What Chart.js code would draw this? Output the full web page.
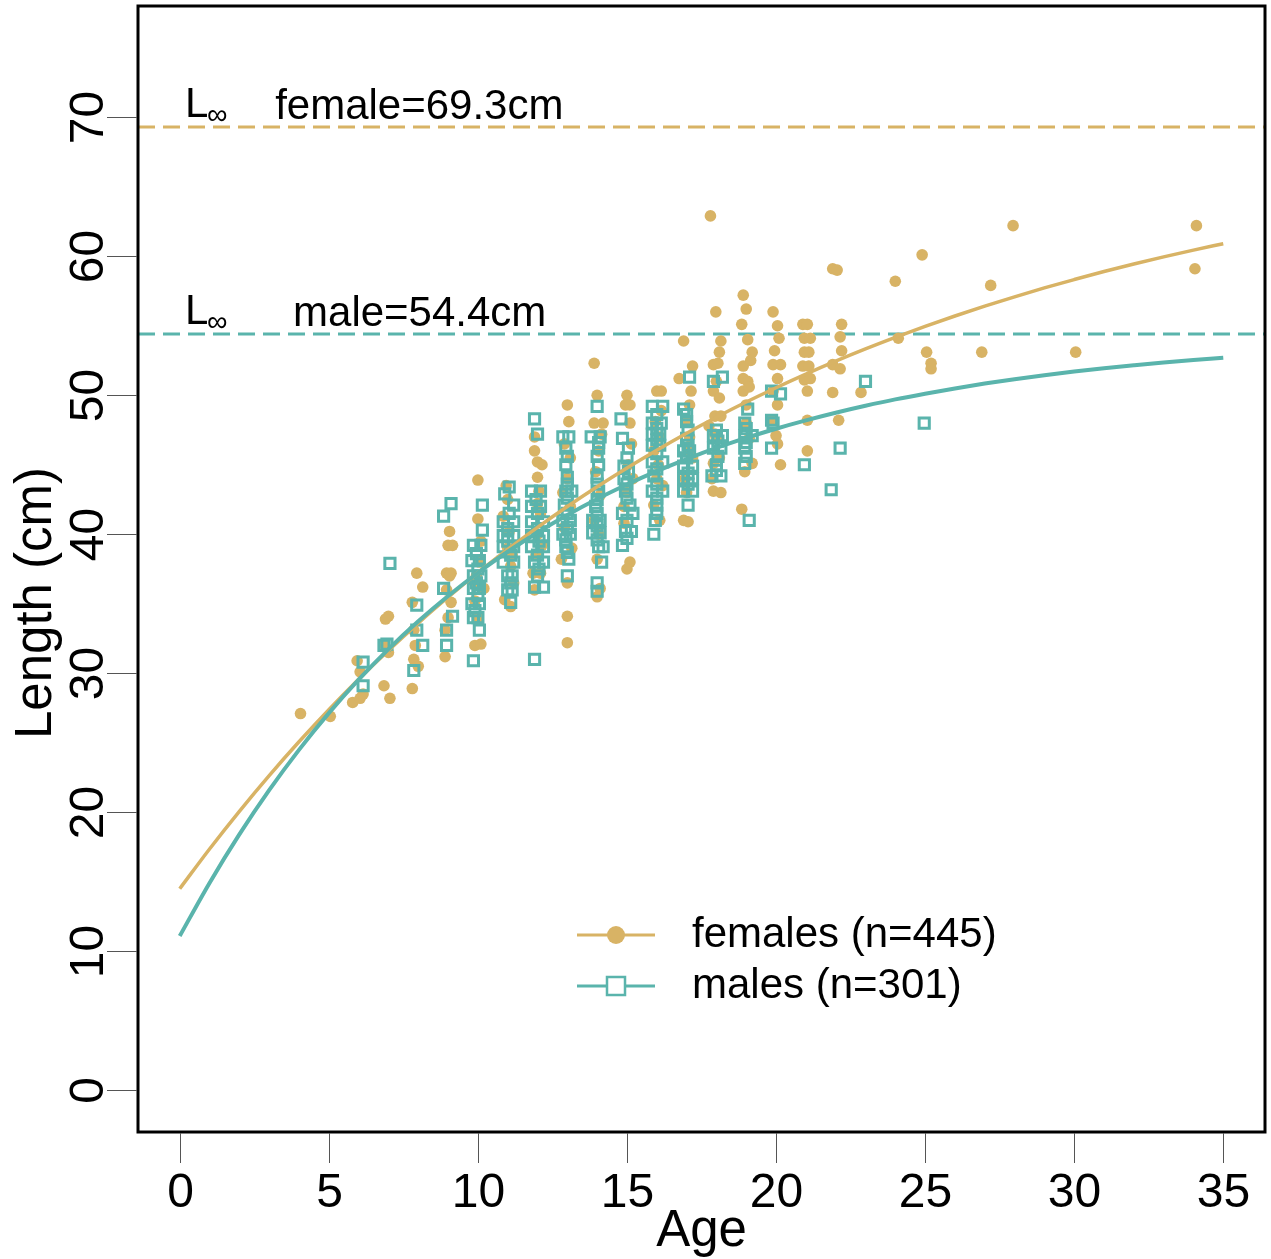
<!DOCTYPE html>
<html>
<head>
<meta charset="utf-8">
<script src="https://cdn.jsdelivr.net/npm/chart.js@4.4.1/dist/chart.umd.min.js"></script>
<style>
  html, body { margin: 0; padding: 0; background: #fff; }
  #wrap { width: 1271px; height: 1259px; }
</style>
</head>
<body>
<div id="wrap"><canvas id="growthChart"></canvas></div>
<script>
const ageTicks = [0, 5, 10, 15, 20, 25, 30, 35];
const lengthTicks = [0, 10, 20, 30, 40, 50, 60, 70];

const femaleLinf = 69.3;
const maleLinf = 54.4;

// fitted growth curves, one value per year of age
const curveAges = [0, 1, 2, 3, 4, 5, 6, 7, 8, 9, 10, 11, 12, 13, 14, 15, 16, 17,
  18, 19, 20, 21, 22, 23, 24, 25, 26, 27, 28, 29, 30, 31, 32, 33, 34, 35];
const femaleCurve = [14.50, 17.36, 20.07, 22.64, 25.07, 27.38, 29.57, 31.64, 33.61,
  35.47, 37.24, 38.91, 40.50, 42.00, 43.42, 44.77, 46.05, 47.27, 48.42, 49.51,
  50.54, 51.52, 52.45, 53.33, 54.16, 54.95, 55.70, 56.41, 57.08, 57.72, 58.32,
  58.90, 59.44, 59.95, 60.44, 60.90];
const maleCurve = [11.10, 14.92, 18.41, 21.59, 24.49, 27.13, 29.54, 31.74, 33.74,
  35.56, 37.23, 38.74, 40.13, 41.39, 42.54, 43.58, 44.54, 45.41, 46.21, 46.93,
  47.59, 48.19, 48.74, 49.24, 49.70, 50.11, 50.49, 50.84, 51.15, 51.44, 51.70,
  51.94, 52.15, 52.35, 52.53, 52.70];

// observed [age, length] pairs (ages jittered a little)
const femaleObs = [
  [4.05, 27.1], [5.05, 26.9],
  [5.8, 27.9], [6.05, 28.2], [5.95, 30.9], [6.05, 30.1], [6.15, 28.5],
  [6.85, 29.1], [7.05, 28.2], [7.0, 34.1], [6.9, 33.9], [6.85, 32.1], [7.0, 31.5],
  [7.95, 37.2], [8.15, 36.2], [7.8, 35.1], [7.8, 28.9], [7.85, 31.0], [7.9, 32.0], [7.85, 33.1], [8.0, 30.5],
  [9.05, 40.2], [9.0, 39.2], [9.15, 39.2], [8.95, 37.2], [9.1, 37.2], [9.05, 37.0], [9.1, 35.1], [8.9, 33.1],
  [8.9, 31.2], [9.0, 34.0], [8.95, 36.0],
  [10.0, 43.9], [10.0, 41.1], [9.9, 32.0], [10.1, 32.1], [10.2, 36.1], [9.9, 35.2], [10.05, 38.0], [9.95, 37.0],
  [10.1, 39.5], [10.0, 34.0], [9.9, 36.5],
  [10.85, 41.3], [10.9, 35.3], [11.1, 37.7], [11.0, 39.0], [11.2, 36.5], [11.05, 40.2], [11.0, 42.5], [11.15, 38.5],
  [10.95, 43.5], [11.1, 34.8],
  [11.9, 46.0], [12.0, 45.2], [12.15, 45.0], [12.0, 44.1], [12.05, 43.1], [11.85, 37.2], [12.1, 37.2], [11.9, 36.0],
  [12.0, 40.0], [12.1, 41.5], [11.95, 38.5], [12.15, 39.2], [12.0, 42.2], [11.9, 47.0],
  [13.0, 49.3], [13.05, 48.1], [12.8, 38.2], [13.0, 34.1], [13.0, 32.2], [12.9, 40.5], [13.1, 42.0], [13.0, 44.0],
  [13.1, 45.5], [12.9, 46.5], [13.15, 39.0], [13.0, 36.5], [12.85, 43.0],
  [13.9, 52.3], [14.0, 50.0], [13.9, 48.0], [14.2, 48.0], [14.0, 38.2], [14.1, 36.1], [14.0, 35.5], [14.05, 46.0],
  [13.95, 44.5], [14.1, 42.8], [13.9, 41.0], [14.05, 40.0], [14.15, 47.2],
  [14.95, 49.3], [15.1, 49.3], [15.1, 38.0], [15.0, 37.5], [14.9, 40.8], [15.05, 45.0], [15.15, 46.5], [15.0, 43.0],
  [14.9, 42.0], [15.1, 48.0], [15.2, 44.0], [15.0, 50.0],
  [16.0, 50.3], [16.15, 50.3], [15.9, 42.1], [15.95, 48.1], [16.1, 47.0], [16.05, 45.0], [16.2, 43.5], [15.9, 46.0],
  [16.1, 41.0], [16.0, 44.0], [16.15, 48.9],
  [16.75, 51.2], [16.9, 53.9], [17.2, 52.1], [17.15, 50.3], [17.1, 49.3], [17.0, 48.2], [16.9, 41.0], [17.05, 40.9],
  [17.1, 47.0], [17.2, 45.5], [16.95, 44.0], [17.1, 46.0], [17.0, 43.0],
  [17.8, 62.9], [17.98, 56.0], [18.15, 53.9], [18.1, 53.1], [17.9, 52.2], [18.05, 52.3], [17.9, 50.3], [18.1, 49.8],
  [17.95, 48.5], [18.15, 48.5], [17.75, 47.8], [18.0, 46.9], [17.9, 45.1], [17.9, 43.1], [18.15, 43.0], [17.85, 44.0],
  [18.1, 45.5], [18.0, 51.0], [17.95, 47.2],
  [18.9, 57.2], [19.0, 56.2], [18.85, 55.1], [19.2, 53.1], [18.9, 52.1], [18.9, 51.2], [19.05, 51.0], [18.9, 50.3],
  [19.0, 49.3], [19.1, 46.9], [19.2, 45.1], [18.85, 41.8], [19.0, 48.0], [19.1, 50.6], [19.15, 52.5], [19.05, 54.0],
  [18.95, 44.5],
  [19.9, 56.0], [20.05, 55.0], [20.1, 54.1], [19.9, 52.2], [20.15, 52.2], [20.05, 51.2], [19.9, 50.3], [20.05, 49.3],
  [20.0, 47.1], [20.15, 45.0], [20.05, 46.5], [19.95, 53.2], [19.85, 48.2],
  [20.9, 55.1], [21.05, 55.1], [20.95, 54.1], [21.15, 54.1], [20.95, 53.1], [21.1, 53.1], [20.9, 52.1], [21.1, 52.1],
  [20.95, 51.1], [21.15, 51.2], [21.05, 50.3], [21.05, 48.2], [21.05, 46.0],
  [21.9, 59.1], [22.05, 59.0], [22.2, 55.1], [22.15, 54.2], [22.2, 53.2], [21.9, 52.2], [22.15, 51.9], [21.9, 50.2],
  [22.1, 48.2],
  [22.85, 50.2],
  [24.0, 58.2], [24.1, 54.1],
  [24.9, 60.1], [25.05, 53.1], [25.2, 52.3], [25.2, 51.9],
  [26.9, 53.1], [27.2, 57.9],
  [27.95, 62.2],
  [30.05, 53.1],
  [34.1, 62.2], [34.05, 59.1]
];

const maleObs = [
  [6.15, 30.8], [6.15, 29.1],
  [7.05, 37.9], [6.95, 32.1], [6.85, 32.0],
  [7.95, 34.9], [7.95, 33.1], [8.15, 32.0], [7.85, 30.2],
  [8.85, 36.1], [9.15, 34.1], [8.95, 33.1], [8.95, 32.0], [9.1, 42.2], [8.85, 41.3],
  [10.15, 42.1], [10.15, 40.3], [9.85, 39.2], [10.1, 39.2], [9.8, 38.1], [10.05, 38.1], [9.85, 37.0], [9.85, 36.1],
  [10.05, 36.1], [9.8, 35.0], [10.05, 35.0], [9.85, 34.0], [10.0, 34.0], [10.05, 33.1], [9.85, 30.9], [9.95, 36.5],
  [10.0, 37.5], [9.95, 38.6], [10.0, 35.6], [9.9, 34.5], [10.1, 37.0],
  [11.05, 43.4], [10.9, 42.9], [11.2, 42.1], [10.85, 40.9], [11.2, 40.9], [10.85, 39.9], [11.2, 39.9], [10.85, 39.1],
  [11.2, 39.1], [10.85, 38.0], [11.2, 38.0], [11.0, 37.0], [11.15, 37.0], [11.0, 36.0], [11.15, 36.0], [11.1, 35.1],
  [11.0, 40.4], [11.1, 38.5], [11.0, 39.5], [11.05, 41.5], [11.1, 36.5],
  [11.9, 48.3], [12.0, 47.2], [11.8, 43.1], [12.1, 43.1], [11.8, 42.0], [12.1, 42.0], [11.8, 40.9], [12.2, 40.9],
  [11.8, 39.9], [12.2, 39.9], [11.8, 39.1], [12.2, 39.1], [11.9, 38.0], [12.2, 38.0], [11.9, 36.2], [12.2, 36.2],
  [11.9, 31.0], [12.0, 37.0], [12.0, 41.5], [12.0, 40.4], [12.05, 39.5], [12.0, 38.5], [11.95, 42.5], [12.05, 37.5],
  [12.85, 47.0], [13.05, 47.0], [12.95, 46.2], [12.95, 45.0], [13.0, 44.1], [12.95, 43.1], [13.15, 43.1], [12.9, 42.1],
  [12.85, 41.0], [13.1, 41.0], [12.85, 40.0], [13.1, 40.0], [12.95, 39.1], [13.05, 38.2], [13.0, 37.0],
  [13.0, 45.6], [13.0, 43.6], [13.0, 42.6], [13.0, 41.5], [13.0, 40.5], [12.95, 39.6], [13.0, 38.7],
  [14.0, 49.2], [13.8, 47.0], [14.1, 47.0], [14.05, 46.2], [14.05, 45.0], [14.0, 44.1], [14.05, 43.1], [13.95, 42.0],
  [13.85, 41.0], [14.1, 41.0], [13.85, 40.1], [14.1, 40.1], [14.05, 39.1], [14.2, 39.1], [14.15, 38.0], [14.0, 35.9],
  [14.0, 45.6], [14.0, 43.6], [14.0, 42.5], [14.0, 41.5], [14.0, 40.6], [14.0, 39.6], [14.05, 46.6], [14.0, 36.5],
  [14.8, 48.3], [14.85, 46.9], [15.05, 46.2], [14.9, 44.9], [14.9, 44.0], [14.95, 43.1], [15.1, 42.1], [14.85, 41.5],
  [15.2, 41.5], [14.95, 40.2], [15.15, 40.2], [14.85, 39.2], [15.0, 45.5],
  [15.0, 43.6], [15.0, 42.6], [15.0, 41.0], [15.05, 44.5], [15.0, 39.7],
  [15.85, 49.2], [16.2, 49.2], [15.85, 48.0], [16.15, 48.0], [15.85, 47.2], [16.1, 47.2], [15.85, 46.4], [16.1, 46.4],
  [15.85, 45.2], [16.2, 45.2], [15.9, 44.2], [15.85, 43.1], [16.2, 43.1], [16.0, 42.1], [15.95, 41.0], [15.9, 40.0],
  [16.0, 48.6], [16.0, 47.6], [16.0, 46.8], [16.0, 45.8], [16.0, 44.7], [16.0, 43.6], [16.0, 42.6], [16.0, 41.5],
  [17.1, 51.3], [16.9, 49.0], [17.0, 48.1], [17.0, 46.9], [16.9, 46.0], [17.1, 46.0], [16.9, 44.9], [17.2, 44.9],
  [16.9, 44.0], [17.2, 44.0], [16.9, 43.1], [17.2, 43.1], [17.05, 42.1], [17.0, 45.5],
  [17.05, 47.5], [17.05, 46.4], [17.05, 44.4], [17.05, 43.6], [17.0, 48.6],
  [17.9, 51.0], [18.2, 51.3], [17.9, 47.1], [18.2, 47.1], [17.9, 46.2], [18.15, 46.2], [17.85, 44.2], [18.15, 44.2],
  [18.0, 45.0], [18.05, 46.7], [18.05, 45.6], [18.0, 44.6], [18.0, 47.5],
  [18.95, 48.0], [18.95, 47.1], [19.2, 47.1], [18.95, 46.2], [18.95, 45.1], [19.1, 41.0], [19.05, 49.0],
  [19.0, 47.6], [19.0, 46.6], [19.0, 45.6],
  [19.85, 50.3], [20.15, 50.1], [19.85, 48.2], [19.85, 46.2], [19.9, 48.0],
  [20.95, 45.0],
  [21.85, 43.2], [22.15, 46.2],
  [23.0, 51.0],
  [24.97, 48.0]
];

const legendLabels = ["females (n=445)", "males (n=301)"];

const FEMALE = "#d8b365";
const MALE = "#5ab4ac";
const FONT = "'Liberation Sans', Arial, sans-serif";

const xMin = -1.4, xMax = 36.4;
const yMin = -3, yMax = 78;

const toXY = (pairs) => pairs.map((p) => ({ x: p[0], y: p[1] }));
const curveXY = (vals) => curveAges.map((a, i) => ({ x: a, y: vals[i] }));

// axes, box, L-infinity notes and legend, R-plot style
const framePlugin = {
  id: "frame",
  afterDraw(chart) {
    const { ctx, chartArea: a, scales } = chart;
    const xs = scales.x, ys = scales.y;
    ctx.save();

    ctx.strokeStyle = "#000";
    ctx.lineWidth = 3;
    ctx.strokeRect(a.left, a.top, a.right - a.left, a.bottom - a.top);

    ctx.strokeStyle = "#555";
    ctx.lineWidth = 1;
    ctx.fillStyle = "#000";
    ctx.font = "48px " + FONT;
    ctx.textAlign = "center";
    ctx.textBaseline = "alphabetic";
    ageTicks.forEach((v) => {
      const px = Math.round(xs.getPixelForValue(v)) + 0.5;
      ctx.beginPath();
      ctx.moveTo(px, a.bottom + 1);
      ctx.lineTo(px, a.bottom + 31);
      ctx.stroke();
      ctx.fillText(String(v), px, a.bottom + 75);
    });
    lengthTicks.forEach((v) => {
      const py = Math.round(ys.getPixelForValue(v)) + 0.5;
      ctx.beginPath();
      ctx.moveTo(a.left - 1, py);
      ctx.lineTo(a.left - 31, py);
      ctx.stroke();
      ctx.save();
      ctx.translate(a.left - 35, py);
      ctx.rotate(-Math.PI / 2);
      ctx.fillText(String(v), 0, 0);
      ctx.restore();
    });

    // axis titles
    ctx.font = "51px " + FONT;
    ctx.fillText("Age", (a.left + a.right) / 2, a.bottom + 114);
    ctx.save();
    ctx.translate(51, 603);
    ctx.rotate(-Math.PI / 2);
    ctx.fillText("Length (cm)", 0, 0);
    ctx.restore();

    // asymptote notes
    ctx.textAlign = "left";
    const notes = [
      { v: femaleLinf, text: "female=" + femaleLinf + "cm", at: 3.2 },
      { v: maleLinf, text: "male=" + maleLinf + "cm", at: 3.8 }
    ];
    notes.forEach((n) => {
      const py = ys.getPixelForValue(n.v);
      const lx = xs.getPixelForValue(0.18);
      ctx.font = "42px " + FONT;
      ctx.fillText("L", lx, py - 10);
      ctx.font = "29px " + FONT;
      ctx.fillText("\u221e", lx + 22, py - 3);
      ctx.font = "42px " + FONT;
      ctx.fillText(n.text, xs.getPixelForValue(n.at), py - 8);
    });

    // legend
    const rows = [
      { label: legendLabels[0], color: FEMALE, y: 935, square: false },
      { label: legendLabels[1], color: MALE, y: 986, square: true }
    ];
    ctx.textBaseline = "middle";
    ctx.font = "42px " + FONT;
    rows.forEach((r) => {
      ctx.strokeStyle = r.color;
      ctx.lineWidth = 3;
      ctx.beginPath();
      ctx.moveTo(577, r.y);
      ctx.lineTo(655, r.y);
      ctx.stroke();
      if (r.square) {
        ctx.lineWidth = 2.5;
        ctx.fillStyle = "#fff";
        ctx.fillRect(607, r.y - 9, 18, 18);
        ctx.strokeRect(607, r.y - 9, 18, 18);
      } else {
        ctx.fillStyle = r.color;
        ctx.beginPath();
        ctx.arc(616, r.y, 9, 0, Math.PI * 2);
        ctx.fill();
      }
      ctx.fillStyle = "#000";
      ctx.fillText(r.label, 692, r.y);
    });

    ctx.restore();
  }
};

const ctx = document.getElementById("growthChart");
new Chart(ctx, {
  type: "scatter",
  data: {
    datasets: [
      {
        label: "male curve",
        type: "line",
        data: curveXY(maleCurve),
        borderColor: MALE,
        borderWidth: 4,
        pointRadius: 0,
        cubicInterpolationMode: "monotone",
        order: 0
      },
      {
        label: "female curve",
        type: "line",
        data: curveXY(femaleCurve),
        borderColor: FEMALE,
        borderWidth: 3.5,
        pointRadius: 0,
        cubicInterpolationMode: "monotone",
        order: 1
      },
      {
        label: legendLabels[1],
        data: toXY(maleObs),
        pointStyle: "rect",
        pointRadius: 7.2,
        borderColor: MALE,
        backgroundColor: "rgba(0,0,0,0)",
        pointBorderWidth: 3,
        order: 2
      },
      {
        label: legendLabels[0],
        data: toXY(femaleObs),
        pointStyle: "circle",
        pointRadius: 5.8,
        borderWidth: 0,
        backgroundColor: FEMALE,
        order: 3
      },
      {
        label: "female Linf",
        type: "line",
        data: [{ x: xMin, y: femaleLinf }, { x: xMax, y: femaleLinf }],
        borderColor: FEMALE,
        borderWidth: 3,
        borderDash: [17, 8],
        pointRadius: 0,
        order: 4
      },
      {
        label: "male Linf",
        type: "line",
        data: [{ x: xMin, y: maleLinf }, { x: xMax, y: maleLinf }],
        borderColor: MALE,
        borderWidth: 3,
        borderDash: [17, 8],
        pointRadius: 0,
        order: 5
      }
    ]
  },
  options: {
    responsive: true,
    maintainAspectRatio: false,
    animation: false,
    layout: {
      autoPadding: false,
      padding: { left: 138, right: 6, top: 6, bottom: 127 }
    },
    plugins: {
      legend: { display: false },
      tooltip: { enabled: false }
    },
    scales: {
      x: { type: "linear", min: xMin, max: xMax, display: false },
      y: { type: "linear", min: yMin, max: yMax, display: false }
    }
  },
  plugins: [framePlugin]
});
</script>
</body>
</html>
